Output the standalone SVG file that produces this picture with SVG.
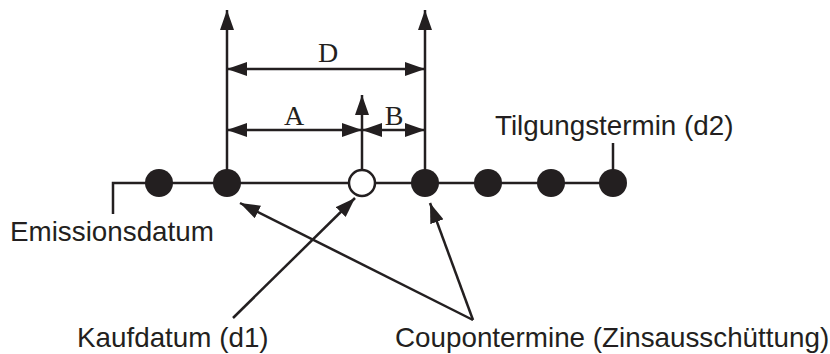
<svg xmlns="http://www.w3.org/2000/svg" width="830" height="354" viewBox="0 0 830 354">
<style>
.ln{stroke:#231f20;stroke-width:2.5;fill:none}
.dot{fill:#231f20}
.open{fill:#fff;stroke:#231f20;stroke-width:2.5}
.sans{font-family:"Liberation Sans",Arial,sans-serif;font-size:27.8px;fill:#231f20}
.serif{font-family:"Liberation Serif","Times New Roman",serif;font-size:28px;fill:#231f20}
</style>
<defs>
<marker id="ah" markerUnits="userSpaceOnUse" markerWidth="21" markerHeight="14" refX="20" refY="7" orient="auto-start-reverse" viewBox="0 0 21 14">
<path d="M0,0 L20,7 L0,14 z" fill="#231f20"/>
</marker>
</defs>
<rect width="830" height="354" fill="#fff"/>
<g id="connectors">
<polyline class="ln" points="113,214 113,183 613,183"/>
<line class="ln" x1="613" y1="183" x2="613" y2="143"/>
<line class="ln" x1="227" y1="183" x2="227" y2="10" marker-end="url(#ah)"/>
<line class="ln" x1="425" y1="183" x2="425" y2="10" marker-end="url(#ah)"/>
<line class="ln" x1="362" y1="169" x2="362" y2="95" marker-end="url(#ah)"/>
<line class="ln" x1="227" y1="69" x2="425" y2="69" marker-start="url(#ah)" marker-end="url(#ah)"/>
<line class="ln" x1="227" y1="130" x2="362" y2="130" marker-start="url(#ah)" marker-end="url(#ah)"/>
<line class="ln" x1="362" y1="130" x2="425" y2="130" marker-start="url(#ah)" marker-end="url(#ah)"/>
<line class="ln" x1="233" y1="318" x2="355" y2="198" marker-end="url(#ah)"/>
<line class="ln" x1="473" y1="320" x2="240" y2="203" marker-end="url(#ah)"/>
<line class="ln" x1="473" y1="320" x2="430" y2="203" marker-end="url(#ah)"/>
</g>
<g id="dot1"><circle class="dot" cx="159" cy="183" r="14"/></g>
<g id="dot2"><circle class="dot" cx="227" cy="183" r="14"/></g>
<g id="kauf-point"><circle class="open" cx="362" cy="183" r="13"/></g>
<g id="dot3"><circle class="dot" cx="425" cy="183" r="14"/></g>
<g id="dot4"><circle class="dot" cx="488" cy="183" r="14"/></g>
<g id="dot5"><circle class="dot" cx="551" cy="183" r="14"/></g>
<g id="dot6"><circle class="dot" cx="613" cy="183" r="14"/></g>
<g id="label-D"><text class="serif" x="328" y="62" text-anchor="middle">D</text></g>
<g id="label-A"><text class="serif" x="294" y="125" text-anchor="middle">A</text></g>
<g id="label-B"><text class="serif" x="394" y="125" text-anchor="middle">B</text></g>
<g id="label-tilgung"><text class="sans" x="495" y="135">Tilgungstermin (d2)</text></g>
<g id="label-emission"><text class="sans" x="10" y="241">Emissionsdatum</text></g>
<g id="label-kauf"><text class="sans" x="77" y="347">Kaufdatum (d1)</text></g>
<g id="label-coupon"><text class="sans" x="395" y="347">Coupontermine (Zinsausschüttung)</text></g>
</svg>
